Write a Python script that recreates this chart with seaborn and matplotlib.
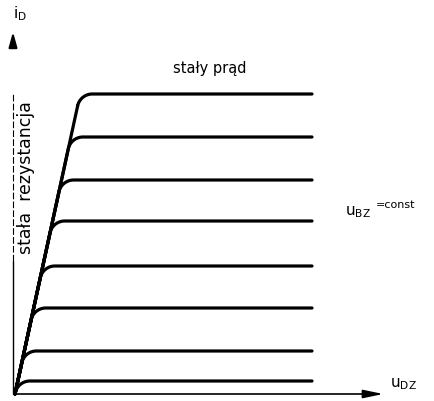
import numpy as np
import pandas as pd
import matplotlib
matplotlib.use("Agg")
import matplotlib.pyplot as plt
import seaborn as sns

# saturation levels of i_D (px above the u_DZ axis), top to bottom
levels = [300, 257, 214, 173, 128, 86, 43, 13]
curve_names = ["c1", "c2", "c3", "c4", "c5", "c6", "c7", "c8"]
x_end = 297          # where the curves stop
ohmic_slope = 4.6    # common steep line from the origin
x0, y0 = 15, 7       # origin of the axes (figure px)
knee_r = 15          # radius of the rounded knee

theta = np.arctan(ohmic_slope)
half = (np.pi - theta) / 2
t = knee_r / np.tan(half)

rows = []
for name, h in zip(curve_names, levels):
    kx = h / ohmic_slope
    # tangent points and arc centre of the fillet
    p1 = (kx - t * np.cos(theta), h - t * np.sin(theta))
    cx, cy = kx + t, h - knee_r
    phi = np.linspace(np.pi / 2 + theta, np.pi / 2, 40)
    xs = np.concatenate([[0, p1[0]], cx + knee_r * np.cos(phi), [x_end]])
    ys = np.concatenate([[0, p1[1]], cy + knee_r * np.sin(phi), [h]])
    keep = ys >= 0
    xs, ys = xs[keep], ys[keep]
    if ys[0] > 0:
        xs = np.concatenate([[0], xs])
        ys = np.concatenate([[0], ys])
    for xi, yi in zip(xs, ys):
        rows.append({"u": xi + x0, "i": yi + y0, "curve": name})
df = pd.DataFrame(rows)

sns.set_style("white")
fig = plt.figure(figsize=(4.34, 4.02), dpi=100)
ax = fig.add_axes([0, 0, 1, 1])
ax.set_xlim(0, 434)
ax.set_ylim(0, 402)
ax.axis("off")

sns.lineplot(data=df, x="u", y="i", hue="curve", palette=["black"] * len(levels),
             linewidth=2.3, legend=False, ax=ax, sort=False, estimator=None)

# axes
ax.annotate("", xy=(386, y0), xytext=(x0 - 2, y0),
            arrowprops=dict(arrowstyle="-|>,head_length=1.2,head_width=0.25", color="black", lw=1.2))
ax.plot([13, 13], [y0, 140], color="black", lw=1.0)
ax.plot([13, 13], [140, 307], color="black", lw=0.8, ls=(0, (6, 2)))
ax.annotate("", xy=(13, 372), xytext=(13, 357),
            arrowprops=dict(arrowstyle="-|>,head_length=0.9,head_width=0.25", color="black", lw=1.5))

# labels
ax.text(13, 388, r"$\mathregular{i_D}$", fontsize=11, ha="left", va="center", color="black")
ax.text(210, 334, "stały prąd", fontsize=10.5, ha="center", va="center", color="black")
ax.text(26, 224, "stała  rezystancja", fontsize=12.5, rotation=90, ha="center", va="center",
        color="black")
ax.text(345, 190, r"$\mathregular{u_{BZ}}$", fontsize=11, ha="left", va="center", color="black")
ax.text(376, 197, "=const", fontsize=8, ha="left", va="center", color="black")
ax.text(390, 18, r"$\mathregular{u_{DZ}}$", fontsize=11, ha="left", va="center", color="black")

fig.savefig("out.png", dpi=100)
